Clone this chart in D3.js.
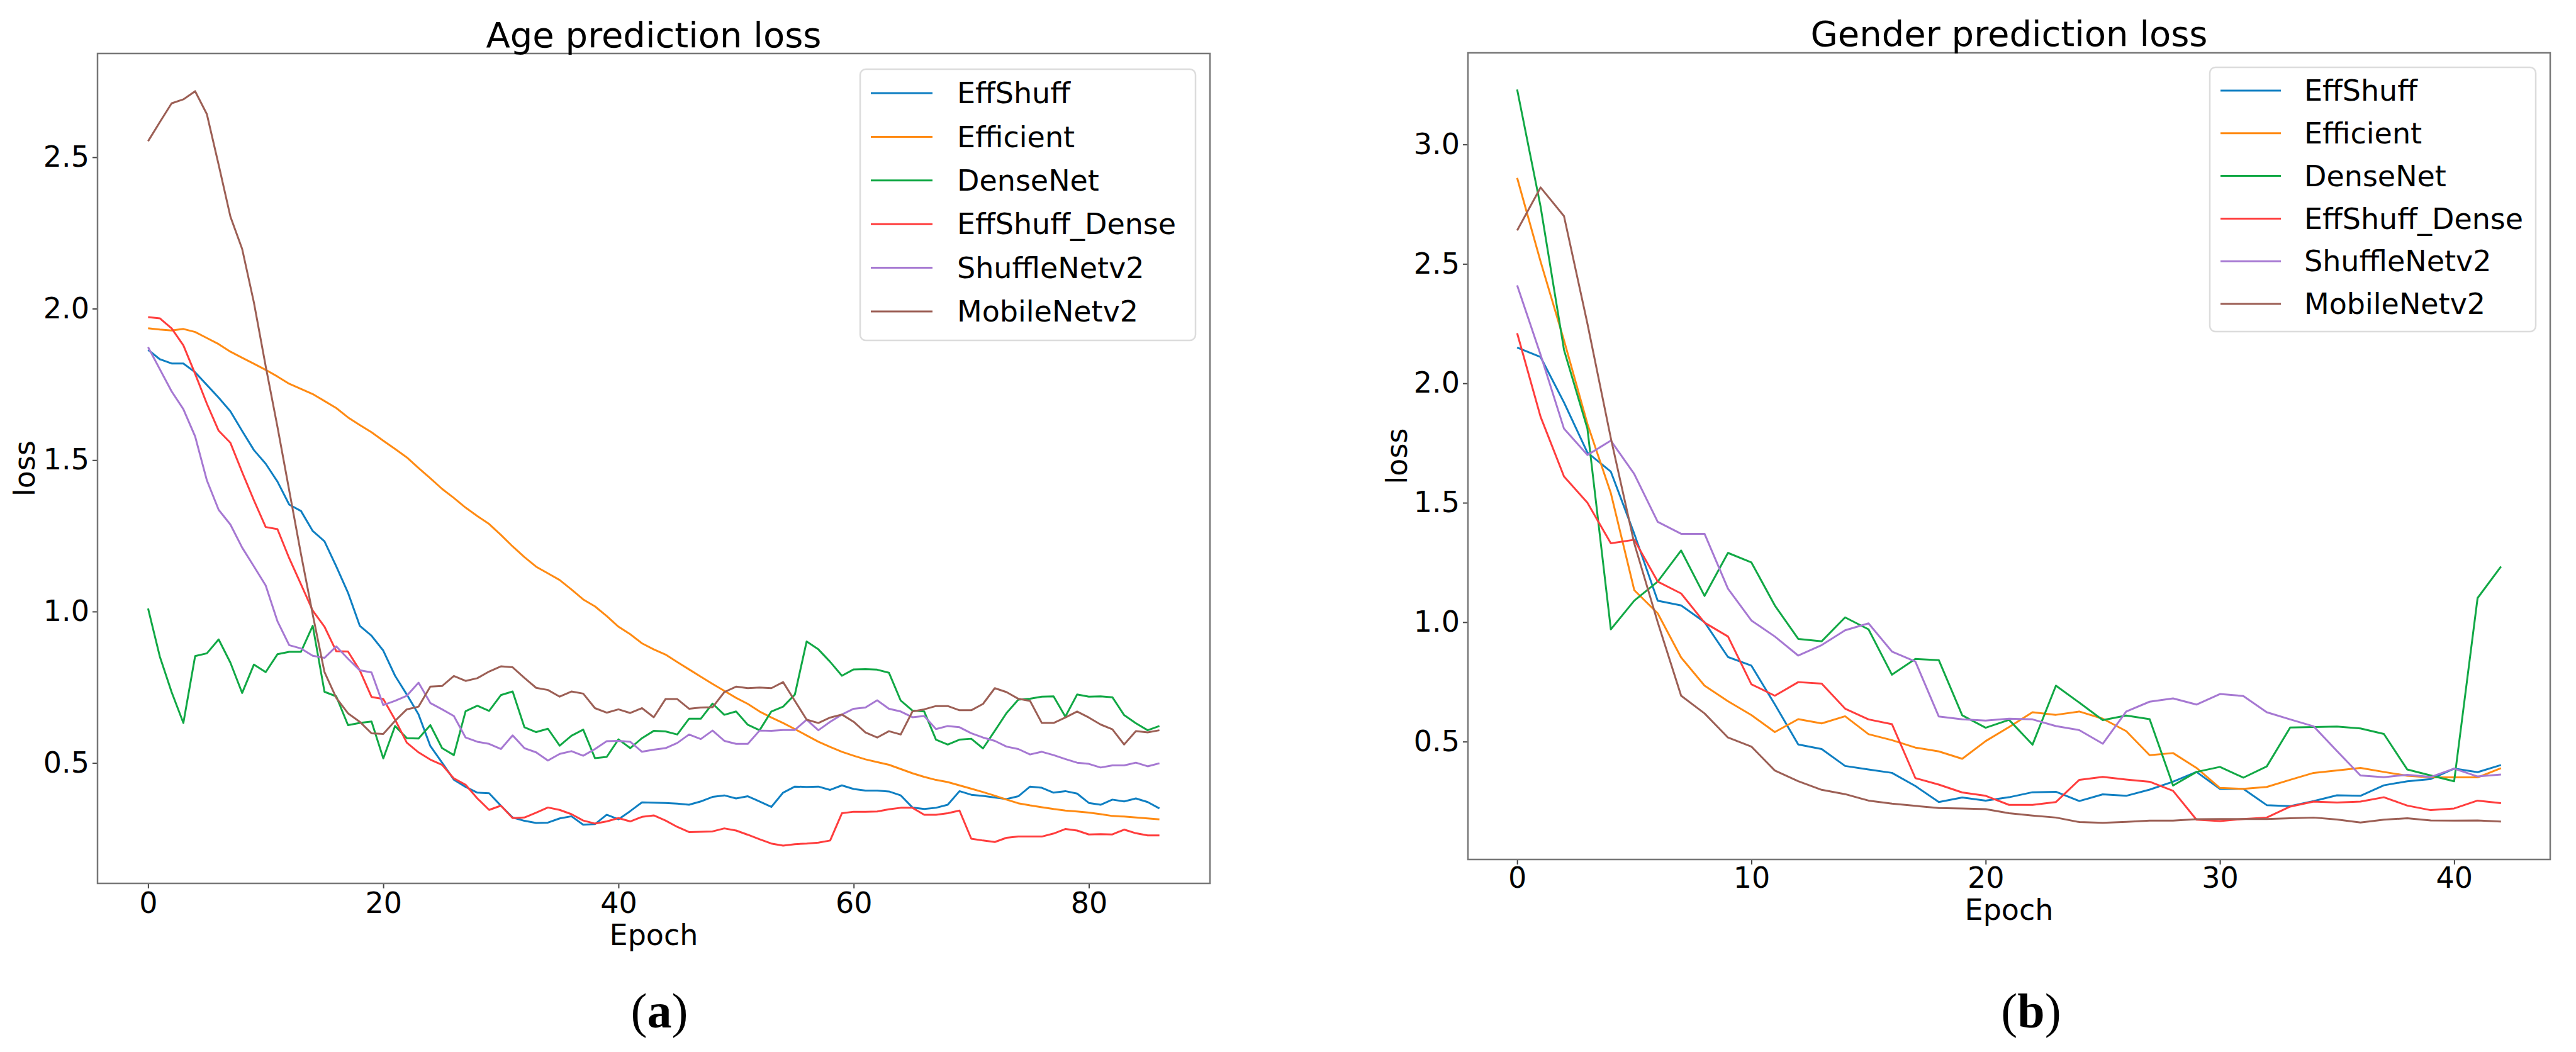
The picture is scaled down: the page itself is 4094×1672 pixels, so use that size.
<!DOCTYPE html>
<html>
<head>
<meta charset="utf-8">
<script src="https://cdn.jsdelivr.net/npm/d3@7"></script>
<style>
  body { margin: 0; background: #fff; }
  text { font-family: "DejaVu Sans", sans-serif; }
</style>
</head>
<body>
<div id="chart"></div>
<script>
// models, in legend order
const models = ["EffShuff", "Efficient", "DenseNet", "EffShuff_Dense", "ShuffleNetv2", "MobileNetv2"];
const colors = ["#0f7fc2", "#ff8a12", "#11a845", "#ff3d3d", "#a678d2", "#9c5f55"];

// age loss per epoch (0..86)
const ageEffShuff = [1.864, 1.833, 1.819, 1.819, 1.790, 1.748, 1.706, 1.661, 1.596, 1.533, 1.488, 1.429, 1.353, 1.332, 1.266, 1.232, 1.149, 1.062, 0.953,
  0.920, 0.871, 0.788, 0.726, 0.660, 0.556, 0.501, 0.445, 0.421, 0.402, 0.400, 0.359, 0.320, 0.309, 0.302, 0.303, 0.317, 0.324, 0.296, 0.298, 0.329, 0.314, 0.341, 0.370, 0.369,
  0.368, 0.366, 0.362, 0.373, 0.388, 0.393, 0.383, 0.390, 0.373, 0.355, 0.402, 0.422, 0.421, 0.422, 0.411, 0.426, 0.414, 0.409, 0.409, 0.406, 0.393, 0.353, 0.348, 0.352, 0.362, 0.407,
  0.395, 0.391, 0.386, 0.381, 0.390, 0.422, 0.418, 0.402, 0.407, 0.399, 0.368, 0.362, 0.379, 0.373, 0.383, 0.371, 0.350];
const ageEfficient = [1.935, 1.931, 1.928, 1.933, 1.923, 1.903, 1.883, 1.858, 1.838, 1.818, 1.798, 1.776, 1.752, 1.735, 1.718, 1.695, 1.672, 1.641, 1.616, 1.592, 1.564, 1.537, 1.509, 1.474, 1.440,
  1.405, 1.375, 1.343, 1.315, 1.289, 1.253, 1.215, 1.180, 1.148, 1.126, 1.104, 1.073, 1.040, 1.017, 0.985, 0.950, 0.925, 0.895, 0.875,
  0.858, 0.833, 0.809, 0.785, 0.761, 0.738, 0.715, 0.695, 0.670, 0.650, 0.632, 0.612, 0.591, 0.570, 0.553, 0.537, 0.524, 0.512, 0.503, 0.494, 0.480, 0.466, 0.454, 0.444, 0.437, 0.426,
  0.415, 0.404, 0.392, 0.379, 0.367, 0.360, 0.354, 0.348, 0.343, 0.340, 0.336, 0.331, 0.325, 0.323, 0.320, 0.317, 0.314];
const ageDenseNet = [1.010, 0.851, 0.734, 0.632, 0.853, 0.862, 0.908, 0.831, 0.731, 0.825, 0.800, 0.859, 0.867, 0.867, 0.953, 0.735, 0.720, 0.625, 0.632, 0.637, 0.515, 0.622,
  0.582, 0.581, 0.625, 0.549, 0.526, 0.671, 0.689, 0.672, 0.724, 0.736, 0.618, 0.602, 0.613, 0.557, 0.590, 0.610, 0.516, 0.520, 0.578, 0.549, 0.582, 0.606,
  0.604, 0.594, 0.646, 0.646, 0.696, 0.659, 0.670, 0.626, 0.608, 0.670, 0.686, 0.726, 0.901, 0.875, 0.834, 0.788, 0.809, 0.810, 0.808, 0.798, 0.706, 0.673, 0.670, 0.577, 0.561, 0.577,
  0.580, 0.548, 0.606, 0.665, 0.709, 0.712, 0.719, 0.720, 0.653, 0.726, 0.719, 0.720, 0.717, 0.658, 0.631, 0.608, 0.622];
const ageEffShuffDense = [1.972, 1.968, 1.935, 1.879, 1.785, 1.686, 1.597, 1.557, 1.460, 1.367, 1.279, 1.272, 1.176, 1.090, 1.003,
  0.950, 0.869, 0.868, 0.806, 0.718, 0.711, 0.643, 0.567, 0.535, 0.511, 0.494, 0.449, 0.428, 0.383, 0.345, 0.359, 0.318, 0.320, 0.336, 0.353, 0.345, 0.331, 0.310, 0.300, 0.307, 0.318, 0.307, 0.322, 0.327,
  0.310, 0.289, 0.272, 0.273, 0.274, 0.284, 0.277, 0.263, 0.248, 0.234, 0.227, 0.232, 0.234, 0.237, 0.244, 0.334, 0.339, 0.339, 0.340, 0.347, 0.352, 0.352, 0.329, 0.329, 0.334, 0.343,
  0.250, 0.244, 0.239, 0.253, 0.257, 0.257, 0.257, 0.267, 0.282, 0.277, 0.264, 0.265, 0.264, 0.280, 0.268, 0.261, 0.261];
const ageShuffleNetv2 = [1.873, 1.800, 1.727, 1.668, 1.578, 1.433, 1.336, 1.287, 1.211, 1.149, 1.086,
  0.968, 0.889, 0.878, 0.854, 0.847, 0.885, 0.844, 0.806, 0.799, 0.691, 0.705, 0.722, 0.765, 0.698, 0.677, 0.655, 0.584, 0.570, 0.563, 0.546, 0.591, 0.549, 0.535, 0.508, 0.530, 0.539, 0.524, 0.546, 0.572, 0.573, 0.570, 0.537, 0.544,
  0.549, 0.566, 0.594, 0.579, 0.607, 0.573, 0.563, 0.563, 0.607, 0.606, 0.609, 0.609, 0.643, 0.608, 0.636, 0.660, 0.679, 0.683, 0.707, 0.679, 0.670, 0.651, 0.655, 0.612, 0.622, 0.618,
  0.598, 0.584, 0.573, 0.554, 0.546, 0.528, 0.537, 0.526, 0.513, 0.501, 0.497, 0.485, 0.492, 0.492, 0.501, 0.489, 0.499];
const ageMobileNetv2 = [2.553, 2.616, 2.678, 2.691, 2.718, 2.642, 2.475, 2.304, 2.197, 2.02, 1.81, 1.61, 1.40, 1.19, 0.99,
  0.80, 0.715, 0.664, 0.636, 0.598, 0.596, 0.639, 0.677, 0.686, 0.752, 0.754, 0.787, 0.771, 0.780, 0.802, 0.819, 0.816, 0.781, 0.748, 0.741, 0.719, 0.736, 0.729, 0.681, 0.666, 0.677, 0.665, 0.681, 0.651,
  0.711, 0.711, 0.679, 0.683, 0.684, 0.734, 0.752, 0.747, 0.749, 0.747, 0.767, 0.705, 0.643, 0.632, 0.650, 0.660, 0.636, 0.601, 0.584, 0.605, 0.594, 0.670, 0.677, 0.688, 0.688, 0.674,
  0.674, 0.695, 0.747, 0.734, 0.712, 0.705, 0.632, 0.632, 0.650, 0.670, 0.650, 0.627, 0.611, 0.561, 0.605, 0.601, 0.608];

// gender loss per epoch (0..42)
const genderEffShuff = [2.15, 2.11, 1.92, 1.71, 1.63, 1.37, 1.09, 1.07, 1.00, 0.854, 0.818, 0.656, 0.488, 0.469, 0.398, 0.383, 0.369, 0.314, 0.247, 0.266, 0.253,
  0.267, 0.288, 0.290, 0.251, 0.279, 0.273, 0.299, 0.332, 0.373, 0.302, 0.302, 0.234, 0.230, 0.251, 0.275, 0.273, 0.317, 0.334, 0.343, 0.387, 0.372, 0.402];
const genderEfficient = [2.86, 2.51, 2.18, 1.83, 1.54, 1.134, 1.037, 0.852, 0.734, 0.669, 0.611, 0.540, 0.594, 0.576, 0.606, 0.531, 0.506, 0.475, 0.459, 0.428, 0.502,
  0.561, 0.623, 0.612, 0.626, 0.596, 0.544, 0.443, 0.452, 0.390, 0.306, 0.302, 0.310, 0.340, 0.369, 0.379, 0.390, 0.373, 0.357, 0.350, 0.350, 0.350, 0.389];
const genderDenseNet = [3.23, 2.74, 2.14, 1.81, 0.97, 1.09, 1.17, 1.30, 1.11, 1.29, 1.25, 1.07, 0.93, 0.92, 1.02, 0.97, 0.78, 0.846, 0.841, 0.61, 0.558,
  0.591, 0.487, 0.734, 0.663, 0.590, 0.609, 0.594, 0.316, 0.373, 0.394, 0.349, 0.396, 0.559, 0.561, 0.563, 0.555, 0.532, 0.383, 0.358, 0.334, 1.101, 1.233];
const genderEffShuffDense = [2.21, 1.86, 1.61, 1.50, 1.33, 1.345, 1.17, 1.12, 0.998, 0.94, 0.74, 0.692, 0.749, 0.743, 0.638, 0.593, 0.573, 0.347, 0.320, 0.287, 0.273,
  0.235, 0.235, 0.247, 0.340, 0.352, 0.341, 0.332, 0.294, 0.173, 0.167, 0.176, 0.182, 0.228, 0.249, 0.245, 0.249, 0.267, 0.232, 0.213, 0.220, 0.253, 0.242];
const genderShuffleNetv2 = [2.41, 2.12, 1.81, 1.70, 1.76, 1.62, 1.42, 1.37, 1.37, 1.14, 1.007, 0.94, 0.86, 0.904, 0.966, 0.995, 0.877, 0.835, 0.605, 0.593, 0.588,
  0.596, 0.593, 0.565, 0.548, 0.491, 0.626, 0.667, 0.681, 0.655, 0.699, 0.691, 0.623, 0.593, 0.564, 0.46, 0.358, 0.351, 0.361, 0.352, 0.387, 0.354, 0.362];
const genderMobileNetv2 = [2.64, 2.82, 2.70, 2.25, 1.77, 1.33, 1.0, 0.692, 0.618, 0.517, 0.479, 0.379, 0.334, 0.298, 0.28, 0.253, 0.240, 0.231, 0.222, 0.220, 0.217,
  0.200, 0.190, 0.182, 0.163, 0.160, 0.164, 0.169, 0.169, 0.175, 0.176, 0.176, 0.176, 0.179, 0.182, 0.174, 0.161, 0.173, 0.179, 0.170, 0.169, 0.170, 0.165];

// tick labels
const ageXTicks = [0, 20, 40, 60, 80];
const ageYTicks = [0.5, 1.0, 1.5, 2.0, 2.5];
const genderXTicks = [0, 10, 20, 30, 40];
const genderYTicks = [0.5, 1.0, 1.5, 2.0, 2.5, 3.0];

const svg = d3.select("#chart")
  .append("svg")
  .attr("width", 4094)
  .attr("height", 1672);

svg.append("rect").attr("width", 4094).attr("height", 1672).attr("fill", "#fff");

function drawPanel(p) {
  const all = p.series.flat();
  const n = p.series[0].length - 1;
  const lo = d3.min(all), hi = d3.max(all), pad = (hi - lo) * 0.05;

  const x = d3.scaleLinear().domain([-n * 0.05, n * 1.05]).range([p.left, p.right]);
  const y = d3.scaleLinear().domain([lo - pad, hi + pad]).range([p.bottom, p.top]);

  const g = svg.append("g");

  // X axis
  g.append("g")
    .attr("transform", `translate(0,${p.bottom})`)
    .call(d3.axisBottom(x).tickValues(p.xTicks).tickSize(8).tickPadding(p.xPad).tickFormat(d3.format("d")))
    .call(a => a.select(".domain").remove());

  // Y axis
  g.append("g")
    .attr("transform", `translate(${p.left},0)`)
    .call(d3.axisLeft(y).tickValues(p.yTicks).tickSize(8).tickPadding(5).tickFormat(d3.format(".1f")))
    .call(a => a.select(".domain").remove());

  g.selectAll(".tick text")
    .attr("font-size", 46)
    .attr("fill", "#000");
  g.selectAll(".tick line").attr("stroke", "#444").attr("stroke-width", 2);

  // loss curves
  const line = d3.line().x((d, i) => x(i)).y(d => y(d));
  p.series.forEach((s, k) => {
    g.append("path")
      .datum(s)
      .attr("d", line)
      .attr("fill", "none")
      .attr("stroke", colors[k])
      .attr("stroke-width", 3)
      .attr("stroke-linejoin", "round");
  });

  // frame
  g.append("rect")
    .attr("x", p.left).attr("y", p.top)
    .attr("width", p.right - p.left).attr("height", p.bottom - p.top)
    .attr("fill", "none").attr("stroke", "#777").attr("stroke-width", 2.5);

  // titles
  const cx = (p.left + p.right) / 2;
  g.append("text").attr("x", cx).attr("y", p.titleY)
    .attr("text-anchor", "middle").attr("font-size", 56).text(p.title);
  g.append("text").attr("x", cx).attr("y", p.xLabelY)
    .attr("text-anchor", "middle").attr("font-size", 46).text("Epoch");
  g.append("text")
    .attr("transform", `translate(${p.yLabelX},${(p.top + p.bottom) / 2}) rotate(-90)`)
    .attr("text-anchor", "middle").attr("font-size", 46).text("loss");

  // legend
  const lg = p.legend;
  g.append("rect")
    .attr("x", lg.x).attr("y", lg.y).attr("width", lg.w).attr("height", lg.h)
    .attr("rx", 9).attr("fill", "#fff").attr("fill-opacity", 0.85)
    .attr("stroke", "#dcdcdc").attr("stroke-width", 2.5);
  models.forEach((m, k) => {
    const ry = lg.y + lg.first + k * lg.step;
    g.append("line")
      .attr("x1", lg.x + 17).attr("x2", lg.x + 17 + lg.len)
      .attr("y1", ry).attr("y2", ry)
      .attr("stroke", colors[k]).attr("stroke-width", 3);
    g.append("text")
      .attr("x", lg.x + lg.textDx).attr("y", ry).attr("dy", "0.35em")
      .attr("font-size", 46).text(m);
  });

  // caption, serif with a bold letter
  const cap = g.append("text").attr("x", p.capX).attr("y", 1633)
    .attr("text-anchor", "middle")
    .style("font-family", "'Liberation Serif', serif")
    .style("font-size", "78px");
  cap.append("tspan").text("(");
  cap.append("tspan").style("font-weight", "bold").text(p.capLetter);
  cap.append("tspan").text(")");
}

drawPanel({
  title: "Age prediction loss",
  series: [ageEffShuff, ageEfficient, ageDenseNet, ageEffShuffDense, ageShuffleNetv2, ageMobileNetv2],
  xTicks: ageXTicks, yTicks: ageYTicks,
  left: 155, right: 1923, top: 85, bottom: 1404,
  xPad: 6, titleY: 75, xLabelY: 1502, yLabelX: 55,
  legend: { x: 1367, y: 110, w: 533, h: 431, first: 38, step: 69.4, len: 98, textDx: 154 },
  capX: 1048, capLetter: "a"
});

drawPanel({
  title: "Gender prediction loss",
  series: [genderEffShuff, genderEfficient, genderDenseNet, genderEffShuffDense, genderShuffleNetv2, genderMobileNetv2],
  xTicks: genderXTicks, yTicks: genderYTicks,
  left: 2333, right: 4053, top: 84, bottom: 1366,
  xPad: 4, titleY: 73, xLabelY: 1462, yLabelX: 2236,
  legend: { x: 3512, y: 107, w: 518, h: 420, first: 37, step: 67.8, len: 96, textDx: 150 },
  capX: 3228, capLetter: "b"
});
</script>
</body>
</html>
